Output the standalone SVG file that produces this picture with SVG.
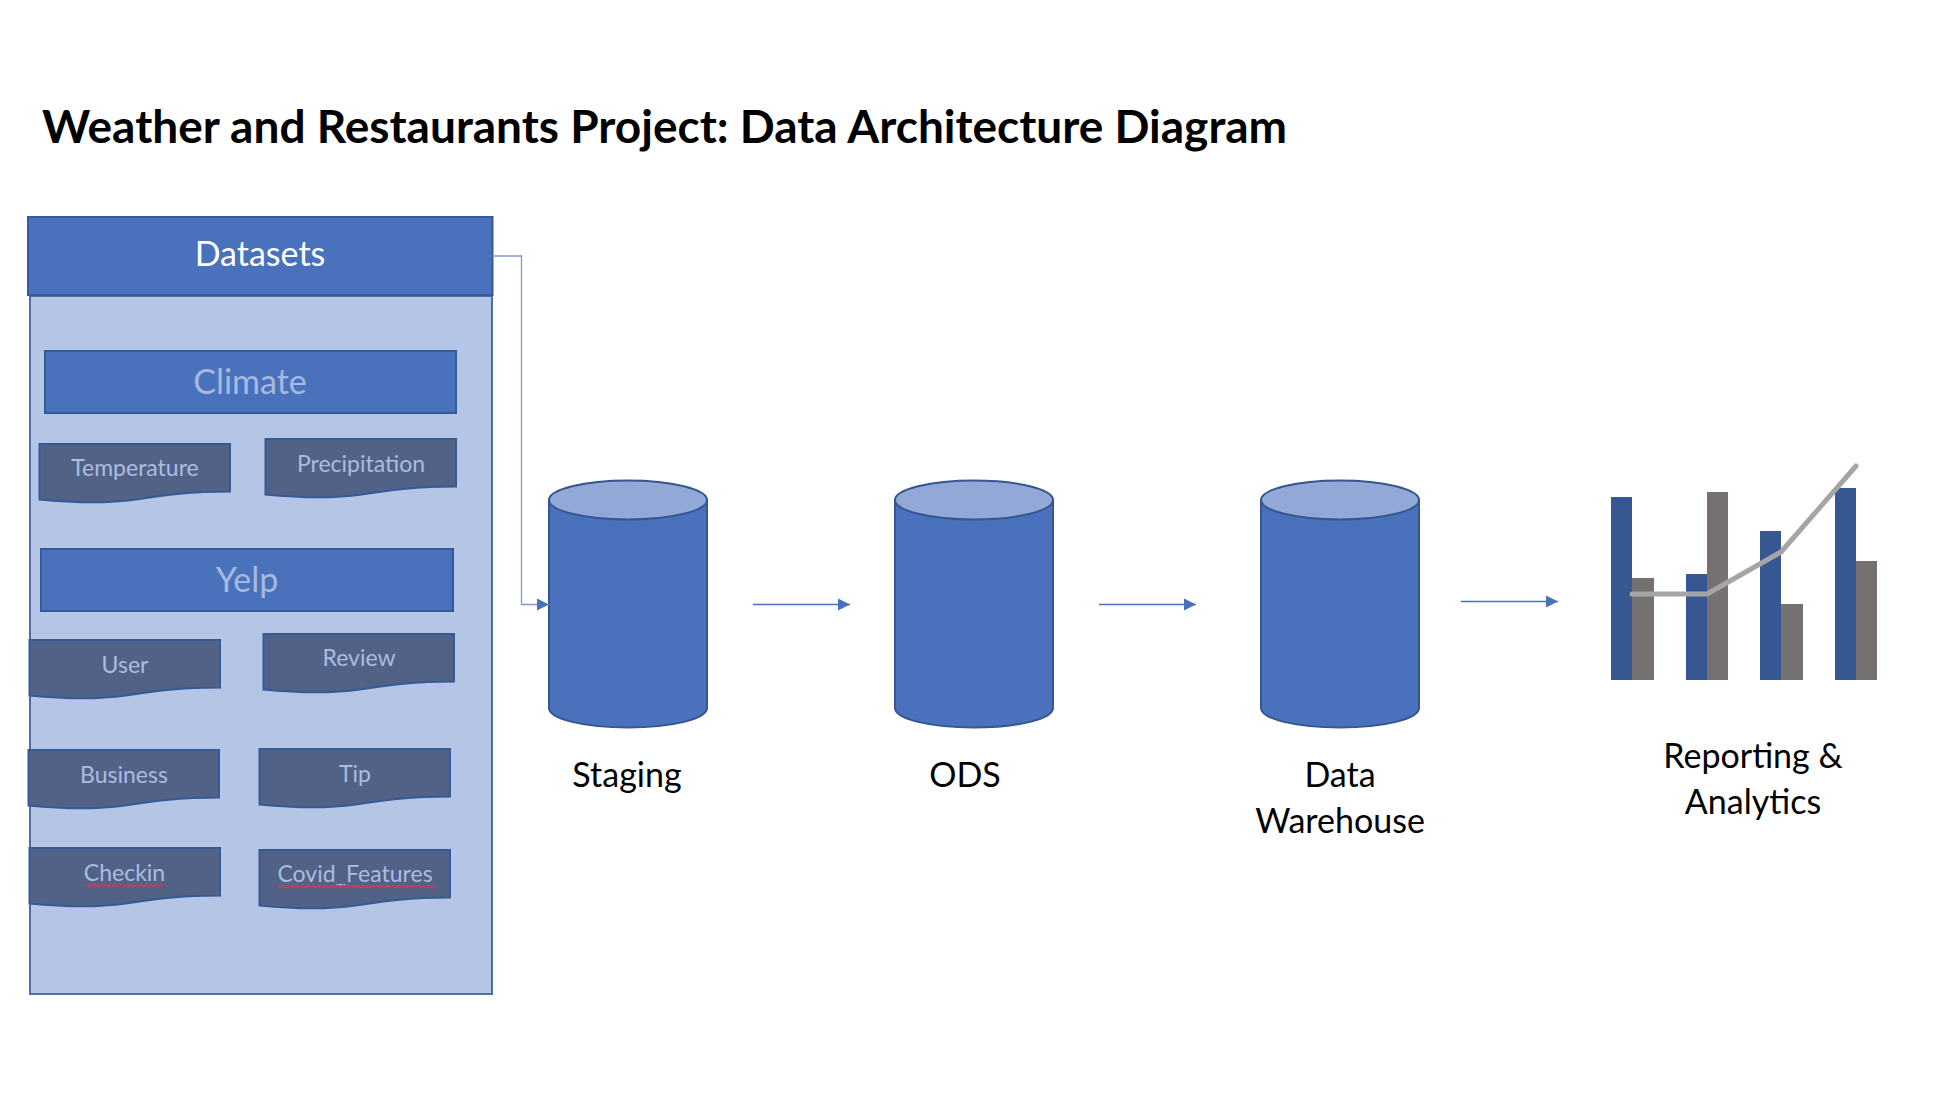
<svg xmlns="http://www.w3.org/2000/svg" xmlns:xlink="http://www.w3.org/1999/xlink" width="1950" height="1102" viewBox="0 0 1950 1102">
<style>
text{font-family:"Lato","Open Sans","Liberation Sans",sans-serif;text-anchor:middle}
.box{fill:#4A72BC;stroke:#355A98;stroke-width:2}
.doc{fill:#526286;stroke:#355A98;stroke-width:2}
.dt{fill:#AABCE0;font-size:23px}
.lt{fill:#000;font-size:34px}
.cb{fill:#4A72BC;stroke:#355690;stroke-width:2}
.ct{fill:#92A9D8;stroke:#355690;stroke-width:2}
.con{fill:none;stroke:#4A72BC;stroke-width:1.3}
.sq{fill:none;stroke:#C0405A;stroke-width:1.4}
.b{fill:#365792}.g{fill:#767171}
</style>
<defs>
<marker id="ah" markerUnits="userSpaceOnUse" markerWidth="12" markerHeight="13" refX="12" refY="6.5" orient="auto"><path d="M0 0.5L12 6.5L0 12.5Z" fill="#4A72BC"/></marker>
<path id="docshape" d="M0 0H190.500V47.500C143 47.500 120 52 96 55.500C72 59 46 60 0 55.500Z"/>
<g id="cyl">
<path class="cb" d="M0 20V228C0 239 35 247.500 79 247.500S158 239 158 228V20Z"/>
<ellipse class="ct" cx="79" cy="20" rx="79" ry="19.500"/>
</g>
</defs>
<text id="title" x="42" y="142.500" style="text-anchor:start;font-weight:700;font-size:46px" fill="#000">Weather and Restaurants Project: Data Architecture Diagram</text>
<g id="panel"><rect x="30" y="296" width="462" height="698" fill="#B4C5E5" stroke="#4F6EA5" stroke-width="2"/></g>
<g id="datasets"><rect class="box" x="28" y="217" width="464.500" height="78" stroke-width="3"/><text x="260" y="266" font-size="34" fill="#fff">Datasets</text></g>
<g id="climate"><rect class="box" x="45" y="351" width="411" height="62"/><text x="250" y="394" font-size="34" fill="#A6B9DE">Climate</text></g>
<g id="yelp"><rect class="box" x="41" y="549" width="412" height="62"/><text x="247" y="592" font-size="34" fill="#A6B9DE">Yelp</text></g>
<g id="temperature"><use href="#docshape" class="doc" x="39.500" y="444"/><text class="dt" x="135" y="476">Temperature</text></g>
<g id="precipitation"><use href="#docshape" class="doc" x="265.500" y="439"/><text class="dt" x="361" y="472">Precipitation</text></g>
<g id="user"><use href="#docshape" class="doc" x="29.500" y="640"/><text class="dt" x="125" y="673">User</text></g>
<g id="review"><use href="#docshape" class="doc" x="263.500" y="634"/><text class="dt" x="359" y="666">Review</text></g>
<g id="business"><use href="#docshape" class="doc" x="28.500" y="750"/><text class="dt" x="124" y="783">Business</text></g>
<g id="tip"><use href="#docshape" class="doc" x="259.500" y="749"/><text class="dt" x="355" y="782">Tip</text></g>
<g id="checkin"><use href="#docshape" class="doc" x="29.500" y="848"/><text class="dt" x="124.500" y="881">Checkin</text>
<path class="sq" d="M86 884l2.500 3l2.500-3l2.500 3l2.500-3l2.500 3l2.500-3l2.500 3l2.500-3l2.500 3l2.500-3l2.500 3l2.500-3l2.500 3l2.500-3l2.500 3l2.500-3l2.500 3l2.500-3l2.500 3l2.500-3l2.500 3l2.500-3l2.500 3l2.500-3l2.500 3l2.500-3l2.500 3l2.500-3l2.500 3l2.500-3l2.500 3"/></g>
<g id="covid_features"><use href="#docshape" class="doc" x="259.500" y="850"/><text class="dt" x="355" y="882">Covid_Features</text>
<path class="sq" d="M278 885l2.500 3l2.500-3l2.500 3l2.500-3l2.500 3l2.500-3l2.500 3l2.500-3l2.500 3l2.500-3l2.500 3l2.500-3l2.500 3l2.500-3l2.500 3l2.500-3l2.500 3l2.500-3l2.500 3l2.500-3l2.500 3l2.500-3l2.500 3l2.500-3l2.500 3l2.500-3l2.500 3l2.500-3l2.500 3l2.500-3l2.500 3l2.500-3l2.500 3l2.500-3l2.500 3l2.500-3l2.500 3l2.500-3l2.500 3l2.500-3l2.500 3l2.500-3l2.500 3l2.500-3l2.500 3l2.500-3l2.500 3l2.500-3l2.500 3l2.500-3l2.500 3l2.500-3l2.500 3l2.500-3l2.500 3l2.500-3l2.500 3l2.500-3l2.500 3l2.500-3l2.500 3l2.500-3l2.500 3"/></g>
<g id="staging"><use href="#cyl" x="549" y="480"/><text class="lt" x="627" y="787">Staging</text></g>
<g id="ods"><use href="#cyl" x="895" y="480"/><text class="lt" x="965" y="787">ODS</text></g>
<g id="data_warehouse"><use href="#cyl" x="1261" y="480"/><text class="lt" x="1340" y="787">Data</text><text class="lt" x="1340" y="833">Warehouse</text></g>
<g id="reporting">
<rect class="b" x="1611" y="497" width="21" height="183"/><rect class="g" x="1632" y="578" width="22" height="102"/>
<rect class="b" x="1686" y="574" width="21" height="106"/><rect class="g" x="1707" y="492" width="21" height="188"/>
<rect class="b" x="1760" y="531" width="21" height="149"/><rect class="g" x="1781" y="604" width="22" height="76"/>
<rect class="b" x="1835" y="488" width="21" height="192"/><rect class="g" x="1856" y="561" width="21" height="119"/>
<path d="M1632 594H1707L1781 552L1856 466" fill="none" stroke="#A5A5A5" stroke-width="5" stroke-linecap="round" stroke-linejoin="round"/>
<text class="lt" x="1753" y="768">Reporting &amp;</text><text class="lt" x="1753" y="814">Analytics</text>
</g>
<g id="connectors">
<path class="con" marker-end="url(#ah)" d="M492.500 256H521.500V604.500H549" style="stroke:#7F9AD0"/>
<path class="con" marker-end="url(#ah)" d="M753 604.500H850"/>
<path class="con" marker-end="url(#ah)" d="M1099 604.500H1196"/>
<path class="con" marker-end="url(#ah)" d="M1461 601.500H1558"/>
</g>
</svg>
